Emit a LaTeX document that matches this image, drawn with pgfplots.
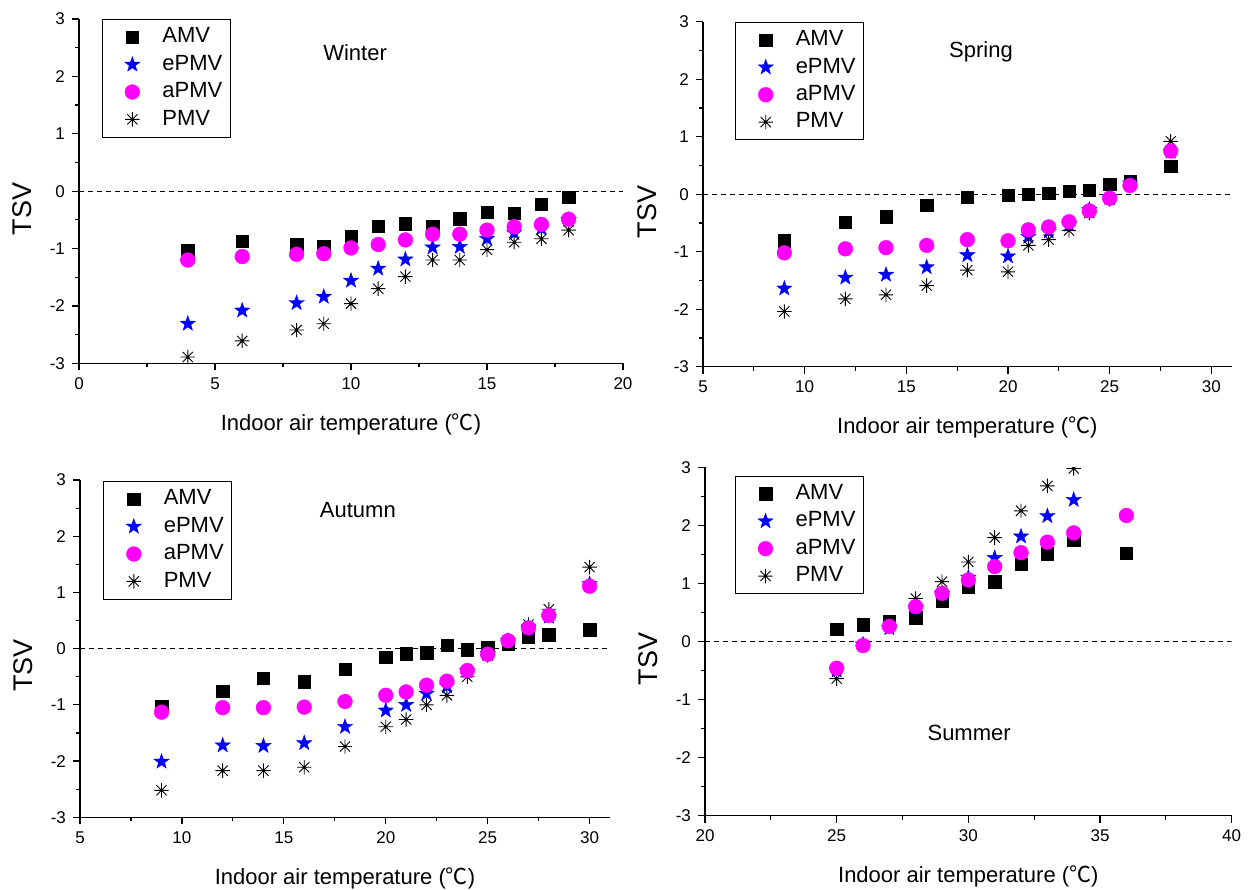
\documentclass[border=0pt]{standalone}
\usepackage{pgfplots}
\pgfplotsset{compat=1.18}
\usepackage{fontspec}
\setmainfont{Liberation Sans}
\newfontfamily\cjk{Noto Sans CJK SC}
\usetikzlibrary{plotmarks}
\definecolor{mag}{RGB}{255,0,255}

\pgfdeclareplotmark{fstar}{%
  \pgfpathmoveto{\pgfpointpolar{90}{\pgfplotmarksize}}%
  \pgfpathlineto{\pgfpointpolar{126}{0.40\pgfplotmarksize}}%
  \pgfpathlineto{\pgfpointpolar{162}{\pgfplotmarksize}}%
  \pgfpathlineto{\pgfpointpolar{198}{0.40\pgfplotmarksize}}%
  \pgfpathlineto{\pgfpointpolar{234}{\pgfplotmarksize}}%
  \pgfpathlineto{\pgfpointpolar{270}{0.40\pgfplotmarksize}}%
  \pgfpathlineto{\pgfpointpolar{306}{\pgfplotmarksize}}%
  \pgfpathlineto{\pgfpointpolar{342}{0.40\pgfplotmarksize}}%
  \pgfpathlineto{\pgfpointpolar{18}{\pgfplotmarksize}}%
  \pgfpathlineto{\pgfpointpolar{54}{0.40\pgfplotmarksize}}%
  \pgfpathclose
  \pgfusepathqfillstroke}

\pgfdeclareplotmark{ast8}{%
  \pgfpathmoveto{\pgfqpoint{-\pgfplotmarksize}{0pt}}\pgfpathlineto{\pgfqpoint{\pgfplotmarksize}{0pt}}%
  \pgfpathmoveto{\pgfqpoint{0pt}{-\pgfplotmarksize}}\pgfpathlineto{\pgfqpoint{0pt}{\pgfplotmarksize}}%
  \pgfpathmoveto{\pgfqpoint{-0.707\pgfplotmarksize}{-0.707\pgfplotmarksize}}\pgfpathlineto{\pgfqpoint{0.707\pgfplotmarksize}{0.707\pgfplotmarksize}}%
  \pgfpathmoveto{\pgfqpoint{-0.707\pgfplotmarksize}{0.707\pgfplotmarksize}}\pgfpathlineto{\pgfqpoint{0.707\pgfplotmarksize}{-0.707\pgfplotmarksize}}%
  \pgfusepathqstroke}

\newcommand\ticksize{\fontsize{8.5}{10}\selectfont}
\newcommand\labsize{\fontsize{11}{13}\selectfont}
\newcommand\tsvsize{\fontsize{13.5}{15}\selectfont}

\pgfplotsset{
  myleg/.style={legend image code/.code={\path[draw=none] (0pt,0pt) (26pt,0pt); \draw[##1] plot[only marks] coordinates {(12pt,0pt)};}},
  amv/.style={only marks, myleg, mark=square*, mark size=3.1pt, black, mark options={fill=black, line width=0.2pt}},
  epmv/.style={only marks, myleg, mark=fstar, mark size=4pt, blue, mark options={fill=blue, line width=0.2pt}},
  apmv/.style={only marks, myleg, mark=*, mark size=3.7pt, mag, mark options={fill=mag, line width=0.2pt}},
  pmv/.style={only marks, myleg, mark=ast8, mark size=3.6pt, black, mark options={line width=0.45pt}},
  zero/.style={black, line width=0.5pt, dash pattern=on 2.5pt off 2pt, forget plot},
  panel/.style={
    scale only axis,
    axis lines=left,
    axis line style={-, line width=0.6pt},
    tick align=outside,
    major tick length=3.5pt,
    minor tick length=2pt,
    every tick/.style={black, line width=0.6pt},
    minor x tick num=1, minor y tick num=1,
    ymin=-3, ymax=3, ytick={-3,-2,...,3},
    tick label style={font=\ticksize},
    /pgf/number format/assume math mode=true,
    xlabel={Indoor air temperature ({\cjk ℃})},
    ylabel={TSV},
    xlabel style={font=\labsize, anchor=base},
    ylabel style={font=\tsvsize, anchor=center},
    legend cell align=left,
    legend style={draw=black, line width=0.5pt, fill=white, font=\labsize,
      inner xsep=3pt, inner ysep=2pt, row sep=0pt, anchor=north west,
      nodes={text height=8pt, text depth=2.3pt, inner ysep=1.7pt, inner xsep=1pt}},
  },
}

\begin{document}
\begin{tikzpicture}
\path[use as bounding box] (0,0) rectangle (627.5pt,445pt);

% Winter
\begin{axis}[panel, at={(39.5pt,263.35pt)}, anchor=south west, width=272pt, height=172.15pt,
  xmin=0, xmax=20, xtick={0,5,...,20},
  xlabel style={at={(axis description cs:0.5,-0.194)}},
  ylabel style={at={(axis description cs:-0.105,0.448)}},
  legend style={at={(0.042,1.0)}}]
\addplot[zero] coordinates {(0,0) (20,0)};
\addplot[amv] coordinates {(4,-1.04)(6,-0.87)(8,-0.93)(9,-0.96)(10,-0.78)(11,-0.61)(12,-0.57)(13,-0.61)(14,-0.48)(15,-0.37)(16,-0.38)(17,-0.23)(18,-0.11)};
\addlegendentry{AMV}
\addplot[epmv] coordinates {(4,-2.31)(6,-2.08)(8,-1.95)(9,-1.84)(10,-1.56)(11,-1.35)(12,-1.19)(13,-0.98)(14,-0.97)(15,-0.83)(16,-0.73)(17,-0.65)(18,-0.50)};
\addlegendentry{ePMV}
\addplot[pmv, forget plot] coordinates {(4,-2.89)(6,-2.61)(8,-2.42)(9,-2.31)(10,-1.96)(11,-1.70)(12,-1.49)(13,-1.20)(14,-1.20)(15,-1.02)(16,-0.89)(17,-0.83)(18,-0.68)};
\addplot[apmv] coordinates {(4,-1.20)(6,-1.14)(8,-1.10)(9,-1.09)(10,-0.99)(11,-0.93)(12,-0.85)(13,-0.75)(14,-0.75)(15,-0.68)(16,-0.62)(17,-0.58)(18,-0.49)};
\addlegendentry{aPMV}
\addlegendimage{pmv}
\addlegendentry{PMV}
\node[font=\labsize] at (axis cs:10.15,2.42) {Winter};
\end{axis}

% Spring
\begin{axis}[panel, at={(351.5pt,261.65pt)}, anchor=south west, width=264.35pt, height=172.5pt,
  xmin=5, xmax=31, xtick={5,10,...,30},
  xlabel style={at={(axis description cs:0.5,-0.193)}},
  ylabel style={at={(axis description cs:-0.106,0.448)}},
  legend style={at={(0.061,1.0)}}]
\addplot[zero] coordinates {(5,0) (31,0)};
\addplot[amv] coordinates {(9,-0.81)(12,-0.49)(14,-0.39)(16,-0.19)(18,-0.05)(20,-0.02)(21,0.0)(22,0.02)(23,0.05)(24,0.07)(25,0.17)(26,0.22)(28,0.49)};
\addlegendentry{AMV}
\addplot[epmv] coordinates {(9,-1.64)(12,-1.45)(14,-1.40)(16,-1.27)(18,-1.06)(20,-1.08)(21,-0.74)(22,-0.65)(23,-0.53)(24,-0.27)(25,-0.05)(26,0.19)(28,0.74)};
\addlegendentry{ePMV}
\addplot[pmv, forget plot] coordinates {(9,-2.04)(12,-1.82)(14,-1.75)(16,-1.59)(18,-1.32)(20,-1.35)(21,-0.89)(22,-0.79)(23,-0.63)(24,-0.33)(25,-0.09)(26,0.17)(28,0.92)};
\addplot[apmv] coordinates {(9,-1.02)(12,-0.95)(14,-0.93)(16,-0.89)(18,-0.79)(20,-0.81)(21,-0.62)(22,-0.57)(23,-0.48)(24,-0.29)(25,-0.07)(26,0.15)(28,0.75)};
\addlegendentry{aPMV}
\addlegendimage{pmv}
\addlegendentry{PMV}
\node[font=\labsize] at (axis cs:18.67,2.47) {Spring};
\end{axis}

% Autumn
\begin{axis}[panel, at={(40pt,36.35pt)}, anchor=south west, width=265pt, height=168.65pt,
  xmin=5, xmax=31, xtick={5,10,...,30},
  xlabel style={at={(axis description cs:0.5,-0.198)}},
  ylabel style={at={(axis description cs:-0.108,0.45)}},
  legend style={at={(0.044,0.997)}}]
\addplot[zero] coordinates {(5,0) (31,0)};
\addplot[amv] coordinates {(9,-1.02)(12,-0.76)(14,-0.53)(16,-0.59)(18,-0.37)(20,-0.15)(21,-0.09)(22,-0.07)(23,0.06)(24,-0.02)(25,0.03)(26,0.09)(27,0.21)(28,0.25)(30,0.34)};
\addlegendentry{AMV}
\addplot[epmv] coordinates {(9,-2.01)(12,-1.72)(14,-1.73)(16,-1.68)(18,-1.39)(20,-1.10)(21,-1.00)(22,-0.80)(23,-0.67)(24,-0.40)(25,-0.09)(26,0.14)(27,0.36)(28,0.57)(30,1.15)};
\addlegendentry{ePMV}
\addplot[pmv, forget plot] coordinates {(9,-2.52)(12,-2.17)(14,-2.17)(16,-2.11)(18,-1.74)(20,-1.39)(21,-1.26)(22,-1.00)(23,-0.83)(24,-0.50)(25,-0.12)(26,0.15)(27,0.43)(28,0.70)(30,1.45)};
\addplot[apmv] coordinates {(9,-1.13)(12,-1.05)(14,-1.05)(16,-1.04)(18,-0.94)(20,-0.83)(21,-0.77)(22,-0.65)(23,-0.58)(24,-0.39)(25,-0.10)(26,0.14)(27,0.37)(28,0.59)(30,1.11)};
\addlegendentry{aPMV}
\addlegendimage{pmv}
\addlegendentry{PMV}
\node[font=\labsize] at (axis cs:18.63,2.46) {Autumn};
\end{axis}

% Summer
\begin{axis}[panel, at={(352.5pt,37.15pt)}, anchor=south west, width=263.35pt, height=174.2pt,
  xmin=20, xmax=40, xtick={20,25,...,40}, clip marker paths=true,
  xlabel style={at={(axis description cs:0.5,-0.191)}},
  ylabel style={at={(axis description cs:-0.108,0.45)}},
  legend style={at={(0.057,0.976)}}]
\addplot[zero] coordinates {(20,0) (40,0)};
\addplot[amv] coordinates {(25,0.21)(26,0.29)(27,0.34)(28,0.41)(29,0.69)(30,0.93)(31,1.03)(32,1.33)(33,1.51)(34,1.74)(36,1.52)};
\addlegendentry{AMV}
\addplot[epmv] coordinates {(25,-0.50)(26,-0.05)(27,0.23)(28,0.58)(29,0.82)(30,1.10)(31,1.44)(32,1.81)(33,2.16)(34,2.44)};
\addlegendentry{ePMV}
\addplot[pmv, forget plot] coordinates {(25,-0.64)(26,-0.06)(27,0.26)(28,0.74)(29,1.03)(30,1.37)(31,1.79)(32,2.25)(33,2.68)(34,2.98)};
\addplot[apmv] coordinates {(25,-0.46)(26,-0.07)(27,0.26)(28,0.60)(29,0.83)(30,1.06)(31,1.29)(32,1.53)(33,1.71)(34,1.87)(36,2.17)};
\addlegendentry{aPMV}
\addlegendimage{pmv}
\addlegendentry{PMV}
\node[font=\labsize] at (axis cs:30.03,-1.57) {Summer};
\end{axis}
\end{tikzpicture}
\end{document}
